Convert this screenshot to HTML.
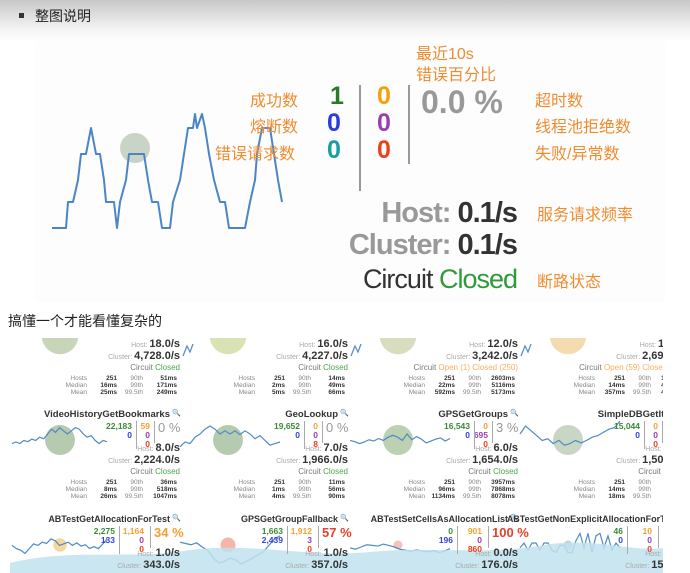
<!DOCTYPE html>
<html><head><meta charset="utf-8">
<style>
*{margin:0;padding:0;box-sizing:border-box}
body{width:690px;height:573px;overflow:hidden;background:#fff;position:relative;font-family:"Liberation Sans","Noto Sans CJK SC",sans-serif}
.a{position:absolute;white-space:nowrap}
.or{color:#f08c30}
.cn{font-family:"Liberation Sans","Noto Sans CJK SC",sans-serif}
#grid{position:absolute;left:10px;top:338px;width:653px;height:235px;overflow:hidden;background:#fff}
.t{position:absolute;white-space:nowrap;font-family:"Liberation Sans",sans-serif}
</style></head><body>
<div class="a" style="left:0;top:0;width:690px;height:42px;background:linear-gradient(#c8c8c8,#f4f4f4 70%,#fff)"></div>
<div class="a" style="left:19px;top:13px;width:5px;height:5px;background:#333"></div>
<div class="a cn" style="left:35px;top:6px;font-size:14px;color:#222">整图说明</div>
<div class="a" style="left:39px;top:42px;font-size:12px;color:#444">✋</div>
<div class="a" style="left:35px;top:40px;width:630px;height:262px;background:#fdfdfd"></div>

<svg class="a" id="mainsvg" style="left:0;top:0" width="690" height="310"></svg>

<div class="a cn or" style="left:416px;top:40px;font-size:16px">最近10s</div>
<div class="a cn or" style="left:416px;top:61px;font-size:16px">错误百分比</div>
<div class="a cn or" style="left:250px;top:87px;font-size:16px">成功数</div>
<div class="a cn or" style="left:250px;top:113px;font-size:16px">熔断数</div>
<div class="a cn or" style="left:215px;top:140px;font-size:16px">错误请求数</div>
<div class="a cn or" style="left:535px;top:87px;font-size:16px">超时数</div>
<div class="a cn or" style="left:535px;top:113px;font-size:16px">线程池拒绝数</div>
<div class="a cn or" style="left:535px;top:140px;font-size:16px">失败/异常数</div>
<div class="a cn or" style="left:537px;top:201px;font-size:16px">服务请求频率</div>
<div class="a cn or" style="left:537px;top:268px;font-size:16px">断路状态</div>

<div class="a" style="left:330px;top:82px;font-size:25px;font-weight:bold;color:#2a7a2a">1</div>
<div class="a" style="left:327px;top:109px;font-size:25px;font-weight:bold;color:#2b3be0">0</div>
<div class="a" style="left:327px;top:136px;font-size:25px;font-weight:bold;color:#15a0a0">0</div>
<div class="a" style="left:359px;top:85px;width:2px;height:106px;background:#999"></div>
<div class="a" style="left:377px;top:82px;font-size:25px;font-weight:bold;color:#f5a00a">0</div>
<div class="a" style="left:377px;top:109px;font-size:25px;font-weight:bold;color:#9b3fb0">0</div>
<div class="a" style="left:377px;top:136px;font-size:25px;font-weight:bold;color:#f0401a">0</div>
<div class="a" style="left:408px;top:85px;width:2px;height:79px;background:#999"></div>
<div class="a" style="left:421px;top:84px;font-size:32px;font-weight:bold;color:#999">0.0 %</div>

<div class="a" style="right:173px;top:197px;font-size:29px;font-weight:bold;color:#999;letter-spacing:-1px">Host: <span style="color:#333">0.1/s</span></div>
<div class="a" style="right:173px;top:229px;font-size:29px;font-weight:bold;color:#999;letter-spacing:-1px">Cluster: <span style="color:#333">0.1/s</span></div>
<div class="a" style="right:173px;top:264px;font-size:27px;color:#333;letter-spacing:-1px">Circuit <span style="color:#2e9a3a">Closed</span></div>

<div class="a cn" style="left:8px;top:311px;font-size:14px;color:#222">搞懂一个才能看懂复杂的</div>

<div id="grid">
<svg id="gsvg" class="t" style="left:0;top:0" width="653" height="235"></svg>
</div>

<script>
// main sparkline data
const mainTimes=[0,14,16,21,26,29,34,39,44,48,52,54,62,65,68,74,77,92,96,100,106,110,118,121,128,132,136,141,143,145,150,153,157,162,168,173,177,193,198,203,205,210,218,222,226,230];
const mainValues=[0,0,1.04,1.04,1.92,2.96,2.96,4,2.96,2.96,1.92,1.04,1.04,0,1.04,1.92,2.96,2.96,1.92,1.04,1.04,0,0,1.04,1.92,2.96,4,4,4.56,4,4.56,4,2.96,1.92,1.04,1.04,0,0,1.04,1.92,2.96,4,4,2.96,1.92,1.04];
const tileNames=[["","","",""],["VideoHistoryGetBookmarks","GeoLookup","GPSGetGroups","SimpleDBGetItem"],["ABTestGetAllocationForTest","GPSGetGroupFallback","ABTestSetCellsAsAllocationList","ABTestGetNonExplicitAllocationForTest"]];
const successCounts=[["","","",""],["22,183","19,652","16,543","15,044"],["2,275","1,663","0","46"]];
const shortCounts=[["","","",""],["0","0","0","0"],["133","2,439","196","0"]];
const timeoutCounts=[["","","",""],["59","0","0","0"],["1,164","1,912","901","10"]];
const rejectedCounts=[["","","",""],["0","0","695","0"],["0","3","0","0"]];
const failureCounts=[["","","",""],["0","8","0","0"],["0","0","860","0"]];
const errorPcts=[["","","",""],["0 %","0 %","3 %","0 %"],["34 %","57 %","100 %",""]];
const pctColors=[["#999","#999","#999","#999"],["#999","#999","#999","#999"],["#f5a030","#e8402a","#e8402a","#999"]];
const hostRates=[["18.0/s","16.0/s","12.0/s","11.0/s"],["8.0/s","7.0/s","6.0/s","5.0/s"],["1.0/s","1.0/s","0.0/s","0.0/s"]];
const clusterRates=[["4,728.0/s","4,227.0/s","3,242.0/s","2,690.0/s"],["2,224.0/s","1,966.0/s","1,654.0/s","1,500.0/s"],["343.0/s","357.0/s","176.0/s","150.0/s"]];
const circuitTexts=[["Closed","Closed","Open (1) Closed (250)","Open (59) Closed (192)"],["Closed","Closed","Closed","Closed"],["","","",""]];
const statMedian=[["16ms","2ms","22ms","14ms"],["8ms","1ms","96ms","14ms"]];
const statMean=[["25ms","5ms","592ms","357ms"],["26ms","4ms","1134ms","18ms"]];
const stat90=[["51ms","14ms","2603ms","1000ms"],["36ms","11ms","3957ms","30ms"]];
const stat99=[["171ms","49ms","5116ms","4000ms"],["518ms","56ms","7868ms","50ms"]];
const stat995=[["249ms","66ms","5173ms","4100ms"],["1047ms","90ms","8078ms","60ms"]];
const sparkB=[[2,2.5,2,3,2.6,3.4,3,4,3.5,5,6.5,5.5,7,6,5,6,7,6.5,5,4,4.5,3,2,3,2.6],[1,2.5,2,4,5,6.5,7.5,6.5,5,6,5,6,4.8,6,5,3.5,4.5,3,1.5,2,2.5],[3,2.6,2,2.5,3.2,2.8,3.6,3,4,4.6,4,3,5,3.2,4.2,3.4,2.2,2.8,3.4,3.8,2.8,3.6],[5,7.5,6,4.5,3,3.5,2,3,1.5,2,3,2.2,3,4,4.5,5.5,6.5,7,9]];
const sparkC=[[3,2,1.5,0.5,2,3.5,3,4,3.6,5,4.5,3,3.5,4,3,3.8,2.8,3.2,2,2.6,2,3.4,5],[4,3.6,3.2,3.8,2.5,1.5,-1,-2.5,-2,-1,-1.5,-2.8,-2,-1,0,1,3,5,6],[2.2,1.8,2.5,3.2,3,2.8,3.4,3,2.5,1.8,1.5,1.2,1.6,1.2,1,1.4,0.8,1.2,2],[3,5,2,5,5,2,5,5,2,1,4,4,1,1,6,9,3,9,1,8,9,3,8,2,5,3]];
const circleRows=[[0.55,0.55,0.55,0.55],[1,1,1,1],[0.45,0.5,0.3,0.3]];
const circleColors=[["#c7d6b8","#d9e2b4","#d8ddc0","#f4dbb0"],["#b5cbb0","#b5cbb0","#bcd0b2","#cad6c4"],["#f6d79c","#f7b4a8","#f9c0c0","#cccccc"]];

const NS='http://www.w3.org/2000/svg';
const ms=document.getElementById('mainsvg');
const mx=t=>52+t, my=v=>228-v*25;
const circ=document.createElementNS(NS,'circle');


circ.setAttribute('cx',135);circ.setAttribute('cy',148);circ.setAttribute('r',15);circ.setAttribute('fill','#c9d4c6');
ms.appendChild(circ);
const mp=document.createElementNS(NS,'polyline');


mp.setAttribute('points',mainTimes.map((t,i)=>mx(t)+','+my(mainValues[i])).join(' '));
mp.setAttribute('fill','none');mp.setAttribute('stroke','#4a86c5');mp.setAttribute('stroke-width','2');mp.setAttribute('stroke-linejoin','round');
ms.appendChild(mp);

const grid=document.getElementById('grid');
const gs=document.getElementById('gsvg');
const rowY=[-32,72,177];
const colR=[160,328,498,668];
function txt(x,y,s,size,color,bold,alignRight,name){
  const d=document.createElement('div');
  d.className='t';
  
  
  d.style.top=y+'px';d.style.fontSize=size+'px';d.style.color=color;
  d.style.fontWeight=bold?'bold':'normal';d.style.lineHeight='1';
  if(alignRight){d.style.right=(653-x)+'px';}else{d.style.left=x+'px';}
  d.innerHTML=s;grid.appendChild(d);return d;
}
for(let r=0;r<3;r++){for(let c=0;c<4;c++){
  const R=colR[c], y0=rowY[r];
  const cc=document.createElementNS(NS,'circle');
  
  
  cc.setAttribute('cx',R-110);cc.setAttribute('cy',y0+30);cc.setAttribute('r',15*circleRows[r][c]+(r==0?10:0));cc.setAttribute('fill',circleColors[r][c]);
  gs.appendChild(cc);
  const data=r==1?sparkB[c]:(r==2?sparkC[c]:null);
  const pl=document.createElementNS(NS,'polyline');
  
  
  if(data){
    const x0=R-158, w=(c==0?95:100), sc=(r==2&&c==3)?2.4:3.2;
    pl.setAttribute('points',data.map((v,i)=>(x0+i*w/(data.length-1))+','+(y0+40-v*sc)).join(' '));
  } else {
    pl.setAttribute('points',(R+13)+','+(y0+50)+' '+(R+17)+','+(y0+40)+' '+(R+20)+','+(y0+46)+' '+(R+23)+','+(y0+38));
  }
  pl.setAttribute('fill','none');pl.setAttribute('stroke','#4f8bc4');pl.setAttribute('stroke-width','1.2');
  gs.appendChild(pl);
  if(tileNames[r][c]){
    const rc=r==2;
    txt(R,y0,tileNames[r][c],rc?9:9.5,'#333',true,true,'tile-name');
    txt(R+2,y0,'&#128269;',7,'#7aa6d8',false,false,'magnifier-icon');
    const c1=rc?R-55:R-38, c2=rc?R-26:R-20, l1=rc?R-51:R-34, l2=rc?R-20:R-16, pl1=rc?R-16:R-12;
    txt(c1,y0+12,successCounts[r][c],8.5,'#3a8a3a',true,true,'success-count');
    txt(c1,y0+21,shortCounts[r][c],8.5,'#3344dd',true,true,'short-circuit-count');
    txt(c2,y0+12,timeoutCounts[r][c],8.5,'#f5a030',true,true,'timeout-count');
    txt(c2,y0+21,rejectedCounts[r][c],8.5,'#9b3fb0',true,true,'rejected-count');
    txt(c2,y0+30,failureCounts[r][c],8.5,'#f0401a',true,true,'failure-count');
    txt(pl1,y0+11,errorPcts[r][c],13,pctColors[r][c],rc,false,'error-percent');
    const v1=document.createElement('div');v1.className='t';
    
    
    v1.style.cssText+='left:'+l1+'px;top:'+(y0+11)+'px;width:1px;height:28px;background:#aaa';grid.appendChild(v1);
    const v2=document.createElement('div');v2.className='t';
    
    
    v2.style.cssText+='left:'+l2+'px;top:'+(y0+11)+'px;width:1px;height:22px;background:#aaa';grid.appendChild(v2);
  }
  txt(R+10,y0+33,'<span style="font-size:7px;color:#aaa;font-weight:normal">Host: </span>'+hostRates[r][c],11,'#333',true,true,'host-rate');
  txt(R+10,y0+45,'<span style="font-size:7px;color:#aaa;font-weight:normal">Cluster: </span>'+clusterRates[r][c],11,'#333',true,true,'cluster-rate');
  if(circuitTexts[r][c]){
    const col=circuitTexts[r][c].startsWith('Open')?'#f5b060':'#4aa84a';
    txt(R+10,y0+58,'<span style="color:#777">Circuit </span><span style="color:'+col+'">'+circuitTexts[r][c]+'</span>',8,'#777',false,true,'circuit-status');
  }
  if(r<2){
    const ys=[y0+70,y0+77,y0+84];
    const lab=['Hosts','Median','Mean'], pl2=['90th','99th','99.5th'];
    const v1=['251',statMedian[r][c],statMean[r][c]], v2=[stat90[r][c],stat99[r][c],stat995[r][c]];
    for(let k=0;k<3;k++){
      txt(R-83,ys[k],lab[k],6.5,'#888',false,true,'stat-label');
      txt(R-53,ys[k],v1[k],6.5,'#333',true,true,'stat-value');
      txt(R-27,ys[k],pl2[k],6.5,'#888',false,true,'stat-label');
      txt(R+7,ys[k],v2[k],6.5,'#333',true,true,'stat-value');
    }
  }
}}
const wave=document.createElementNS(NS,'path');


wave.setAttribute('d','M0,225 C60,210 120,222 180,212 C240,204 300,220 360,214 C420,208 480,218 540,206 C590,200 620,214 653,210 L653,235 L0,235 Z');
wave.setAttribute('fill','#bfe2ee');wave.setAttribute('opacity','0.85');
gs.appendChild(wave);
</script>
</body></html>
